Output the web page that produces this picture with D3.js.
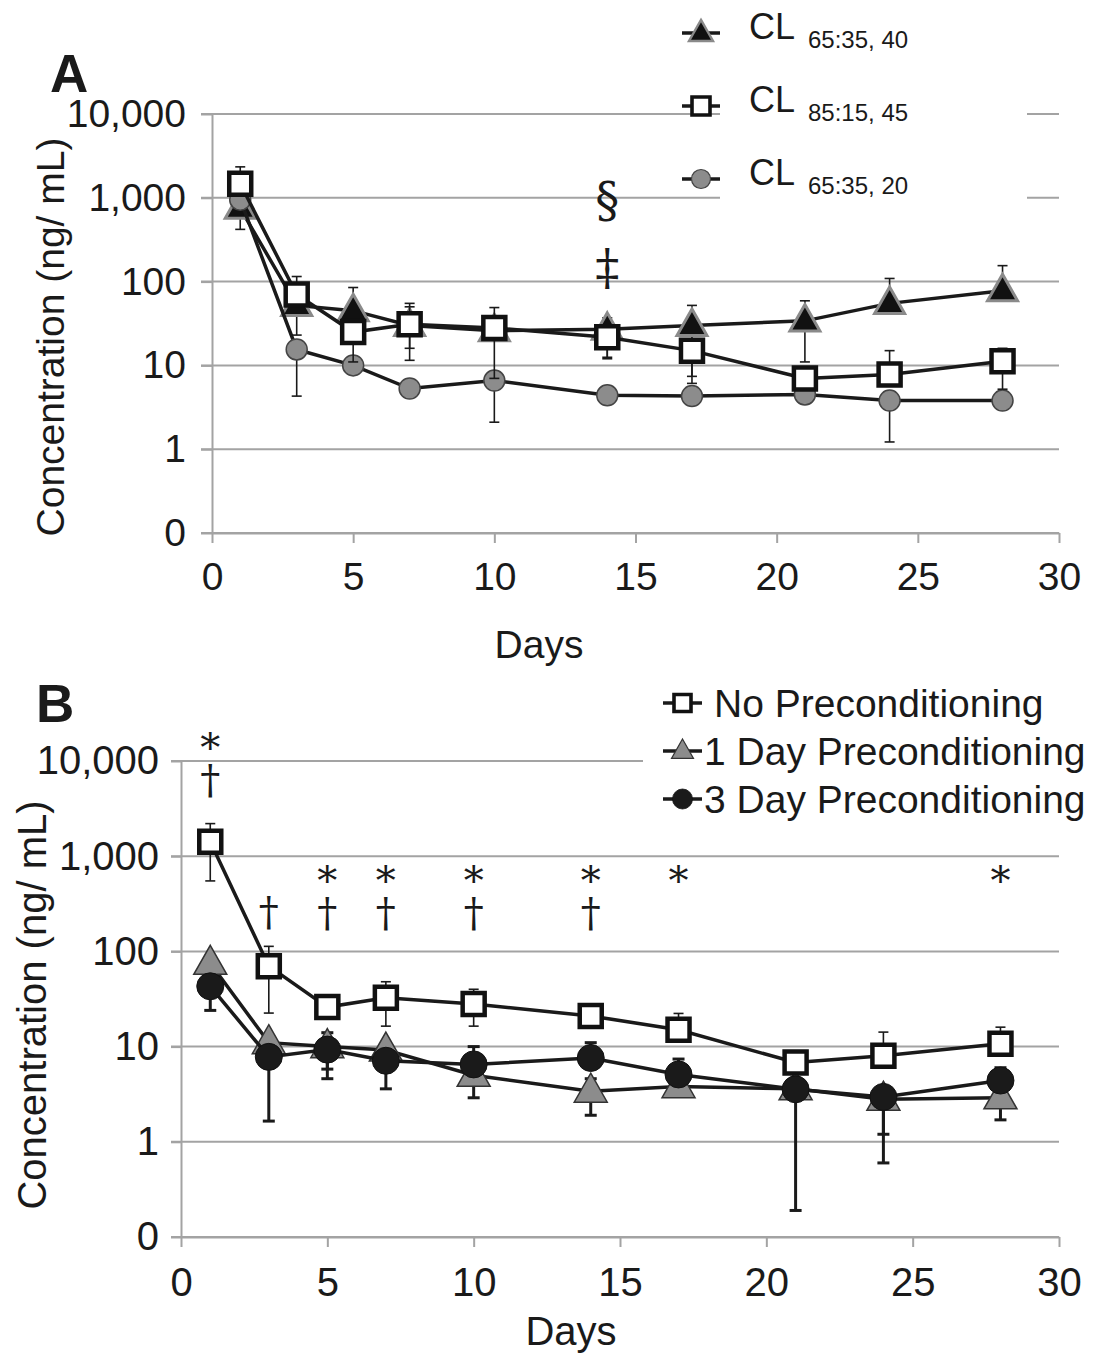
<!DOCTYPE html>
<html><head><meta charset="utf-8">
<script src="https://cdn.jsdelivr.net/npm/d3@7"></script>
<style>
html,body{margin:0;padding:0;background:#fff;}
text{font-family:"Liberation Sans",Arial,sans-serif;fill:#1a1a1a;}
</style></head>
<body><svg id="chart" width="1103" height="1353"></svg>
<script>
// ---------- DATA ----------
const days = [1, 3, 5, 7, 10, 14, 17, 21, 24, 28];
const xTicks = [0, 5, 10, 15, 20, 25, 30];
const yTickValues = [0.1, 1, 10, 100, 1000, 10000];
const yTickLabels = ["0", "1", "10", "100", "1,000", "10,000"];

// Panel A
const cl6540 = [750, 52, 45, 30, 26, 27, 30, 34, 55, 78];
const cl6540Hi = [null, null, 85, 50, null, 37, 52, 59, 109, 155];
const cl6540Lo = [420, 23, null, 11.5, null, 12.5, 7.4, 11, null, null];
const cl8515 = [1470, 70, 25, 31, 28, 21.7, 15, 7, 7.8, 11.2];
const cl8515Hi = [2340, 115, null, 55, 49, null, null, null, 15, 16];
const cl8515Lo = [null, null, 11, 16, 7, 12, 6.1, null, null, 5.2];
const cl6520 = [950, 15.5, 10, 5.3, 6.6, 4.4, 4.3, 4.5, 3.8, 3.8];
const cl6520Hi = [null, null, null, null, null, null, null, null, null, null];
const cl6520Lo = [null, 4.3, null, null, 2.1, null, null, null, 1.22, null];
const legendA = ["65:35, 40", "85:15, 45", "65:35, 20"];
const annADays = [14, 14];
const annALevels = [946, 150];
const annAStacks = [["§"], ["‡"]];

// Panel B
const noPre = [1420, 70, 26, 32.5, 28, 21, 15, 6.8, 8, 10.7];
const noPreHi = [2200, 113, null, 48, 40, null, 22.3, null, 14.2, 16];
const noPreLo = [550, 22.5, null, 16.4, 16.4, null, null, null, null, null];
const day1Pre = [75, 11, 10, 9.2, 5, 3.4, 3.8, 3.6, 2.8, 2.9];
const day1Hi = [null, null, 14, null, null, 4.6, null, null, null, null];
const day1Lo = [null, null, 5.8, null, 2.9, 1.9, null, null, 1.2, 1.7];
const day3Pre = [43, 7.8, 9.3, 7.1, 6.5, 7.6, 5.1, 3.56, 2.96, 4.4];
const day3Hi = [null, null, null, null, 10, 11, 7.4, null, null, 6];
const day3Lo = [24, 1.65, 4.6, 3.6, null, null, null, 0.19, 0.6, null];
const legendB = ["No Preconditioning", "1 Day Preconditioning", "3 Day Preconditioning"];
const annBDays = [1, 3, 5, 7, 10, 14, 17, 28];
const annBLevels = [16600, 266, 666, 666, 666, 666, 666, 666];
const annBStacks = [["*", "†"], ["†"], ["*", "†"], ["*", "†"], ["*", "†"], ["*", "†"], ["*"], ["*"]];

// ---------- DRAWING ----------
const svg = d3.select("#chart");
svg.append("rect").attr("width", 1103).attr("height", 1353).attr("fill", "#fff");
const GRID = "#a3a3a3", INK = "#1a1a1a";

function tri(w, h) {
  return { draw(ctx) { ctx.moveTo(0, -h * 0.62); ctx.lineTo(w / 2, h * 0.38); ctx.lineTo(-w / 2, h * 0.38); ctx.closePath(); } };
}
const shapes = {
  square: (s) => d3.symbol().type(d3.symbolSquare).size(s * s)(),
  circle: (s) => d3.symbol().type(d3.symbolCircle).size(Math.PI * s * s / 4)(),
  triangle: (s) => d3.symbol().type(tri(s, s * 0.88)).size(1)()
};

function panel(cfg) {
  const g = svg.append("g");
  const { x, y } = cfg;
  const x0 = x.range()[0], x1 = x.range()[1];
  const FONT = "'Liberation Sans',Arial,sans-serif";
  g.selectAll(".grid").data(yTickValues).join("line")
    .attr("x1", x0 - cfg.tick).attr("x2", x1)
    .attr("y1", d => y(d)).attr("y2", d => y(d))
    .attr("stroke", GRID).attr("stroke-width", 2);
  const ya = g.append("g").attr("transform", `translate(${x0},0)`)
    .call(d3.axisLeft(y).tickValues(yTickValues).tickFormat((d, i) => yTickLabels[i])
      .tickSize(cfg.tick).tickSizeOuter(0).tickPadding(cfg.yPad));
  ya.selectAll("path,line").attr("stroke", GRID).attr("stroke-width", 2);
  ya.selectAll("text").style("font-size", cfg.fs + "px").attr("fill", INK).style("font-family", FONT);
  const xa = g.append("g").attr("transform", `translate(0,${y.range()[0]})`)
    .call(d3.axisBottom(x).tickValues(xTicks).tickSize(10).tickSizeOuter(0).tickPadding(cfg.xPad));
  xa.selectAll("path,line").attr("stroke", GRID).attr("stroke-width", 2);
  xa.selectAll("text").style("font-size", cfg.fs + "px").attr("fill", INK).style("font-family", FONT);
  g.append("text").attr("x", cfg.daysX).attr("y", cfg.daysY).attr("text-anchor", "middle")
    .style("font-size", cfg.fs + "px").text("Days");
  g.append("text").attr("transform", `translate(${cfg.ylabX},${cfg.ylabY}) rotate(-90)`)
    .attr("text-anchor", "middle").style("font-size", cfg.fs + "px").text("Concentration (ng/ mL)");
  g.append("text").attr("x", cfg.letterX).attr("y", cfg.letterY).style("font-size", "53px")
    .style("font-weight", "bold").text(cfg.letter);
  g.append("rect").attr("x", cfg.legBox[0]).attr("y", cfg.legBox[1])
    .attr("width", cfg.legBox[2]).attr("height", cfg.legBox[3]).attr("fill", "#fff");

  cfg.series.forEach(s => {
    const sg = g.append("g");
    const pts = days.map((d, i) => ({ d, v: s.vals[i], hi: s.hi[i], lo: s.lo[i] }));
    const eb = sg.append("g").attr("stroke", INK).attr("stroke-width", s.ebw);
    pts.forEach(p => {
      [p.hi, p.lo].forEach(e => {
        if (e == null) return;
        eb.append("line").attr("x1", x(p.d)).attr("x2", x(p.d)).attr("y1", y(p.v)).attr("y2", y(e));
        eb.append("line").attr("x1", x(p.d) - s.cap / 2).attr("x2", x(p.d) + s.cap / 2).attr("y1", y(e)).attr("y2", y(e));
      });
    });
    sg.append("path").datum(pts)
      .attr("d", d3.line().x(p => x(p.d)).y(p => y(p.v)))
      .attr("fill", "none").attr("stroke", INK).attr("stroke-width", 3.5);
    sg.selectAll(".m").data(pts).join("path")
      .attr("transform", p => `translate(${x(p.d)},${y(p.v)})`)
      .attr("d", shapes[s.shape](s.size))
      .attr("fill", s.fill).attr("stroke", s.stroke).attr("stroke-width", s.sw);
  });

  cfg.series.forEach(s => {
    const i = s.leg;
    const ly = cfg.legY0 + i * cfg.legStep;
    g.append("line").attr("x1", cfg.legX0).attr("x2", cfg.legX1).attr("y1", ly).attr("y2", ly)
      .attr("stroke", INK).attr("stroke-width", 3.5);
    g.append("path").attr("transform", `translate(${(cfg.legX0 + cfg.legX1) / 2},${ly})`)
      .attr("d", shapes[s.shape](s.legSize)).attr("fill", s.fill).attr("stroke", s.stroke).attr("stroke-width", s.sw * 0.8);
    cfg.legendText(g, i, ly);
  });

  // significance markers: one text per stack
  cfg.ann.days.forEach((d, i) => {
    const stack = cfg.ann.stacks[i];
    const t = g.append("text").attr("x", x(d)).attr("y", y(cfg.ann.levels[i]))
      .attr("text-anchor", "middle").attr("dominant-baseline", "central")
      .style("font-family", "'DejaVu Serif',serif").style("font-size", cfg.symSize + "px");
    let prevShift = 0;
    stack.forEach((sym, k) => {
      const shift = sym === "*" ? 7 : 0;
      const dy = (k === 0 ? 0 : cfg.stackGap) + shift - prevShift;
      t.append("tspan").attr("x", x(d)).attr("dy", dy).text(sym);
      prevShift = shift;
    });
  });
}

panel({
  x: d3.scaleLinear([0, 30], [212, 1059]),
  y: d3.scaleLog([0.1, 10000], [533, 114]),
  tick: 11, yPad: 15, xPad: 19, fs: 39, symSize: 48, stackGap: 0,
  daysX: 539, daysY: 658, ylabX: 64, ylabY: 337,
  letter: "A", letterX: 50, letterY: 92,
  legBox: [720, 0, 307, 225],
  legX0: 682, legX1: 720, legY0: 33, legStep: 73,
  legendText: (g, i, ly) => {
    const t = g.append("text").attr("x", 749).attr("y", ly + 6).style("font-size", "36px");
    t.append("tspan").text("CL");
    t.append("tspan").attr("x", 808).attr("dy", 9).style("font-size", "24px").text(legendA[i]);
  },
  series: [
    { leg: 0, vals: cl6540, hi: cl6540Hi, lo: cl6540Lo, shape: "triangle", size: 30, legSize: 24, fill: "#111", stroke: "#8a8a8a", sw: 3, ebw: 1.6, cap: 10 },
    { leg: 2, vals: cl6520, hi: cl6520Hi, lo: cl6520Lo, shape: "circle", size: 21, legSize: 19, fill: "#8c8c8c", stroke: "#444", sw: 1.5, ebw: 1.6, cap: 10 },
    { leg: 1, vals: cl8515, hi: cl8515Hi, lo: cl8515Lo, shape: "square", size: 22, legSize: 18, fill: "#fff", stroke: "#111", sw: 4.5, ebw: 1.6, cap: 10 }
  ],
  ann: { days: annADays, levels: annALevels, stacks: annAStacks }
});

panel({
  x: d3.scaleLinear([0, 30], [181, 1059]),
  y: d3.scaleLog([0.1, 10000], [1237, 761]),
  tick: 10, yPad: 12, xPad: 21, fs: 40, symSize: 40, stackGap: 39,
  daysX: 571, daysY: 1345, ylabX: 46, ylabY: 1005,
  letter: "B", letterX: 36, letterY: 722,
  legBox: [643, 675, 460, 172],
  legX0: 663, legX1: 702, legY0: 703, legStep: 48,
  legendText: (g, i, ly) => {
    g.append("text").attr("x", i === 0 ? 714 : 704).attr("y", ly + 14).style("font-size", "39px").text(legendB[i]);
  },
  series: [
    { leg: 1, vals: day1Pre, hi: day1Hi, lo: day1Lo, shape: "triangle", size: 33, legSize: 22, fill: "#8c8c8c", stroke: "#333", sw: 1.5, ebw: 3, cap: 12 },
    { leg: 2, vals: day3Pre, hi: day3Hi, lo: day3Lo, shape: "circle", size: 27, legSize: 20, fill: "#1a1a1a", stroke: "#111", sw: 1, ebw: 3, cap: 12 },
    { leg: 0, vals: noPre, hi: noPreHi, lo: noPreLo, shape: "square", size: 22, legSize: 17, fill: "#fff", stroke: "#111", sw: 4.5, ebw: 1.6, cap: 10 }
  ],
  ann: { days: annBDays, levels: annBLevels, stacks: annBStacks }
});
</script></body></html>
